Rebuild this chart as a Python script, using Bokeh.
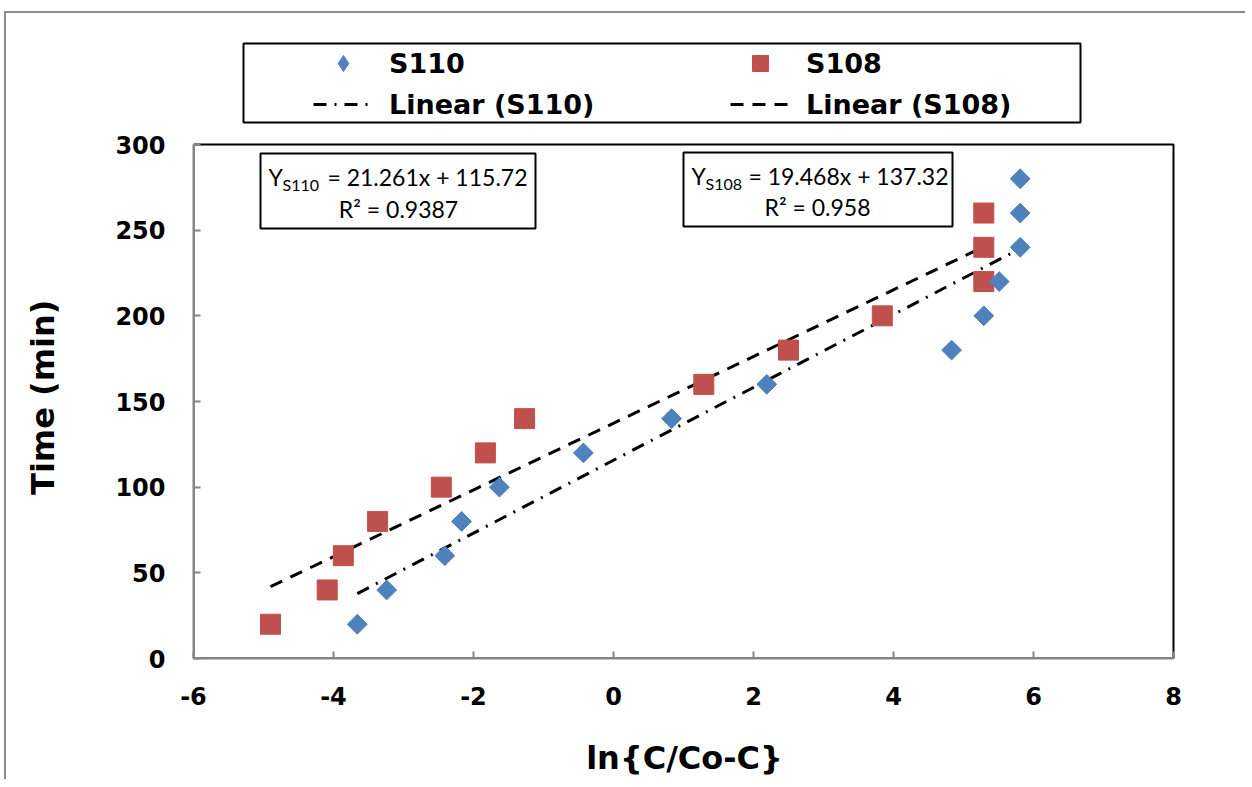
import numpy as np
from bokeh.plotting import figure
from bokeh.models import (FixedTicker, Legend, LegendItem, Label, BoxAnnotation, Range1d)
from bokeh.embed import file_html
from bokeh.resources import INLINE

# ---- data ----
s110_x = [-3.66, -3.24, -2.41, -2.17, -1.63, -0.43, 0.83, 2.19, 4.83, 5.29, 5.51, 5.81, 5.81, 5.81]
s110_y = [20, 40, 60, 80, 100, 120, 140, 160, 180, 200, 220, 240, 260, 280]
s108_x = [-4.90, -4.09, -3.86, -3.37, -2.46, -1.83, -1.27, 1.29, 2.50, 3.84, 5.29, 5.29, 5.29]
s108_y = [20, 40, 60, 80, 100, 120, 140, 160, 180, 200, 220, 240, 260]
fit_s110 = [21.261, 115.72]   # slope, intercept
fit_s108 = [19.468, 137.32]
r2_s110 = "0.9387"
r2_s108 = "0.958"
x_ticks = [-6, -4, -2, 0, 2, 4, 6, 8]
y_ticks = [0, 50, 100, 150, 200, 250, 300]
x_axis_span = (-6, 8)
y_axis_span = (0, 300)

BLUE = "#4F81BD"
RED = "#C0504D"
AXIS_GRAY = "#868686"
BOLD_FONT = "DejaVu Sans"
EQ_FONT = "Lato"
NBSP = "\u00a0"

# frame covers the plot area plus the space above it (legend lives there)
FRAME_W = 982
FRAME_H = 645
PX_PER_X = 70.0
PX_PER_Y = 514.0 / 300.0

p = figure(frame_width=FRAME_W, frame_height=FRAME_H, output_backend="svg", toolbar_location=None,
           x_range=Range1d(x_axis_span[0], x_axis_span[0] + FRAME_W / PX_PER_X),
           y_range=Range1d(y_axis_span[0], y_axis_span[0] + FRAME_H / PX_PER_Y),
           min_border_left=187, min_border_right=70, min_border_top=0, min_border_bottom=121,
           styles={"border-left": "2px solid #8C8C8C", "border-top": "2px solid #8C8C8C",
                   "margin-left": "4px", "margin-top": "11px"})
p.background_fill_color = "white"
p.border_fill_color = "white"
p.outline_line_color = None
p.xgrid.visible = False
p.ygrid.visible = False

# plot-area border (black top/right; axes cover left/bottom)
p.add_layout(BoxAnnotation(left=x_axis_span[0], right=x_axis_span[1],
                           bottom=y_axis_span[0], top=y_axis_span[1],
                           fill_alpha=0, line_color="black", line_alpha=1, line_width=2,
                           level="underlay"))

# trendlines
def fit_line(xs, coef):
    x0, x1 = min(xs), max(xs)
    return [x0, x1], [coef[0] * x0 + coef[1], coef[0] * x1 + coef[1]]

lx, ly = fit_line(s110_x, fit_s110)
l110 = p.line(lx, ly, line_color="black", line_width=3, line_dash="13 8 2 8")
lx, ly = fit_line(s108_x, fit_s108)
l108 = p.line(lx, ly, line_color="black", line_width=3, line_dash="13 9")

r108 = p.scatter(s108_x, s108_y, marker="square", size=20, fill_color=RED, line_color=RED)
r110 = p.scatter(s110_x, s110_y, marker="square", size=14, angle=np.pi / 4,
                 fill_color=BLUE, line_color=BLUE)
# legend key glyph for the diamond series (hidden in the plot itself)
r110_key = p.scatter(s110_x, s110_y, marker="diamond", fill_color=BLUE, line_color=BLUE)
r110_key.visible = False

for ax in (p.xaxis[0], p.yaxis[0]):
    ax.axis_line_color = AXIS_GRAY
    ax.axis_line_width = 2
    ax.major_tick_line_color = AXIS_GRAY
    ax.major_tick_line_width = 2
    ax.major_tick_in = 7
    ax.major_tick_out = 0
    ax.minor_tick_line_color = None
    ax.major_label_text_font = BOLD_FONT
    ax.major_label_text_font_style = "bold"
    ax.major_label_text_font_size = "24px"
    ax.major_label_text_color = "black"
    ax.axis_label_text_font = BOLD_FONT
    ax.axis_label_text_font_style = "bold"
    ax.axis_label_text_font_size = "32px"
    ax.axis_label_text_color = "black"

p.xaxis.bounds = x_axis_span
p.yaxis.bounds = y_axis_span
p.xaxis.ticker = FixedTicker(ticks=x_ticks)
p.yaxis.ticker = FixedTicker(ticks=y_ticks)
p.xaxis.major_label_overrides = {t: str(t) for t in x_ticks}
p.yaxis.major_label_overrides = {t: str(t) for t in y_ticks}
p.xaxis.axis_label = "ln{C/Co-C}"
# trailing no-break spaces push the title's visible text down to centre on the 0-300 span
p.yaxis.axis_label = "Time (min)" + NBSP * 11
p.xaxis.major_label_standoff = 28
p.yaxis.major_label_standoff = 28
p.xaxis.axis_label_standoff = 31
p.yaxis.axis_label_standoff = 50

def scr_box(left, right, top, bottom, **kw):
    return BoxAnnotation(left=left, right=right, top=top, bottom=bottom,
                         left_units="screen", right_units="screen",
                         top_units="screen", bottom_units="screen", **kw)

# legend box
p.add_layout(scr_box(50, 887, 615, 536, fill_color="white", fill_alpha=1,
                     line_color="black", line_alpha=1, line_width=2))

def make_legend(items, loc):
    lg = Legend(items=items, location=loc, orientation="vertical")
    lg.label_text_font = BOLD_FONT
    lg.label_text_font_style = "bold"
    lg.label_text_font_size = "27px"
    lg.label_text_color = "black"
    lg.glyph_width = 60
    lg.glyph_height = 40
    lg.label_height = 30
    lg.label_standoff = 16
    lg.spacing = 1
    lg.padding = 0
    lg.margin = 0
    lg.border_line_alpha = 0
    lg.background_fill_alpha = 0
    lg.inactive_fill_alpha = 0
    return lg

p.add_layout(make_legend([LegendItem(label="S110", renderers=[r110_key]),
                          LegendItem(label="Linear (S110)", renderers=[l110])], (120, 534)), "center")
p.add_layout(make_legend([LegendItem(label="S108", renderers=[r108]),
                          LegendItem(label="Linear (S108)", renderers=[l108])], (537, 534)), "center")

# equation boxes
p.add_layout(scr_box(67, 342, 505, 430, fill_color="white", fill_alpha=1,
                     line_color="black", line_alpha=1, line_width=2))
p.add_layout(scr_box(490, 759, 506, 432, fill_color="white", fill_alpha=1,
                     line_color="black", line_alpha=1, line_width=2))

def eq_label(x, y, text, size="23px", align="left"):
    return Label(x=x, y=y, x_units="screen", y_units="screen", text=text,
                 text_font=EQ_FONT, text_font_size=size, text_color="black",
                 text_baseline="middle", text_align=align)

# S110 equation
p.add_layout(eq_label(75, 482, "Y"))
p.add_layout(eq_label(89, 474, "S110", size="16px"))
p.add_layout(eq_label(334, 482, "= %.3fx + %.2f" % (fit_s110[0], fit_s110[1]), align="right"))
p.add_layout(eq_label(205, 450, "R² = " + r2_s110, align="center"))
# S108 equation
p.add_layout(eq_label(498, 483, "Y"))
p.add_layout(eq_label(512, 475, "S108", size="16px"))
p.add_layout(eq_label(755, 483, "= %.3fx + %.2f" % (fit_s108[0], fit_s108[1]), align="right"))
p.add_layout(eq_label(624, 452, "R² = " + r2_s108, align="center"))

open("out.html", "w").write(file_html(p, INLINE))
